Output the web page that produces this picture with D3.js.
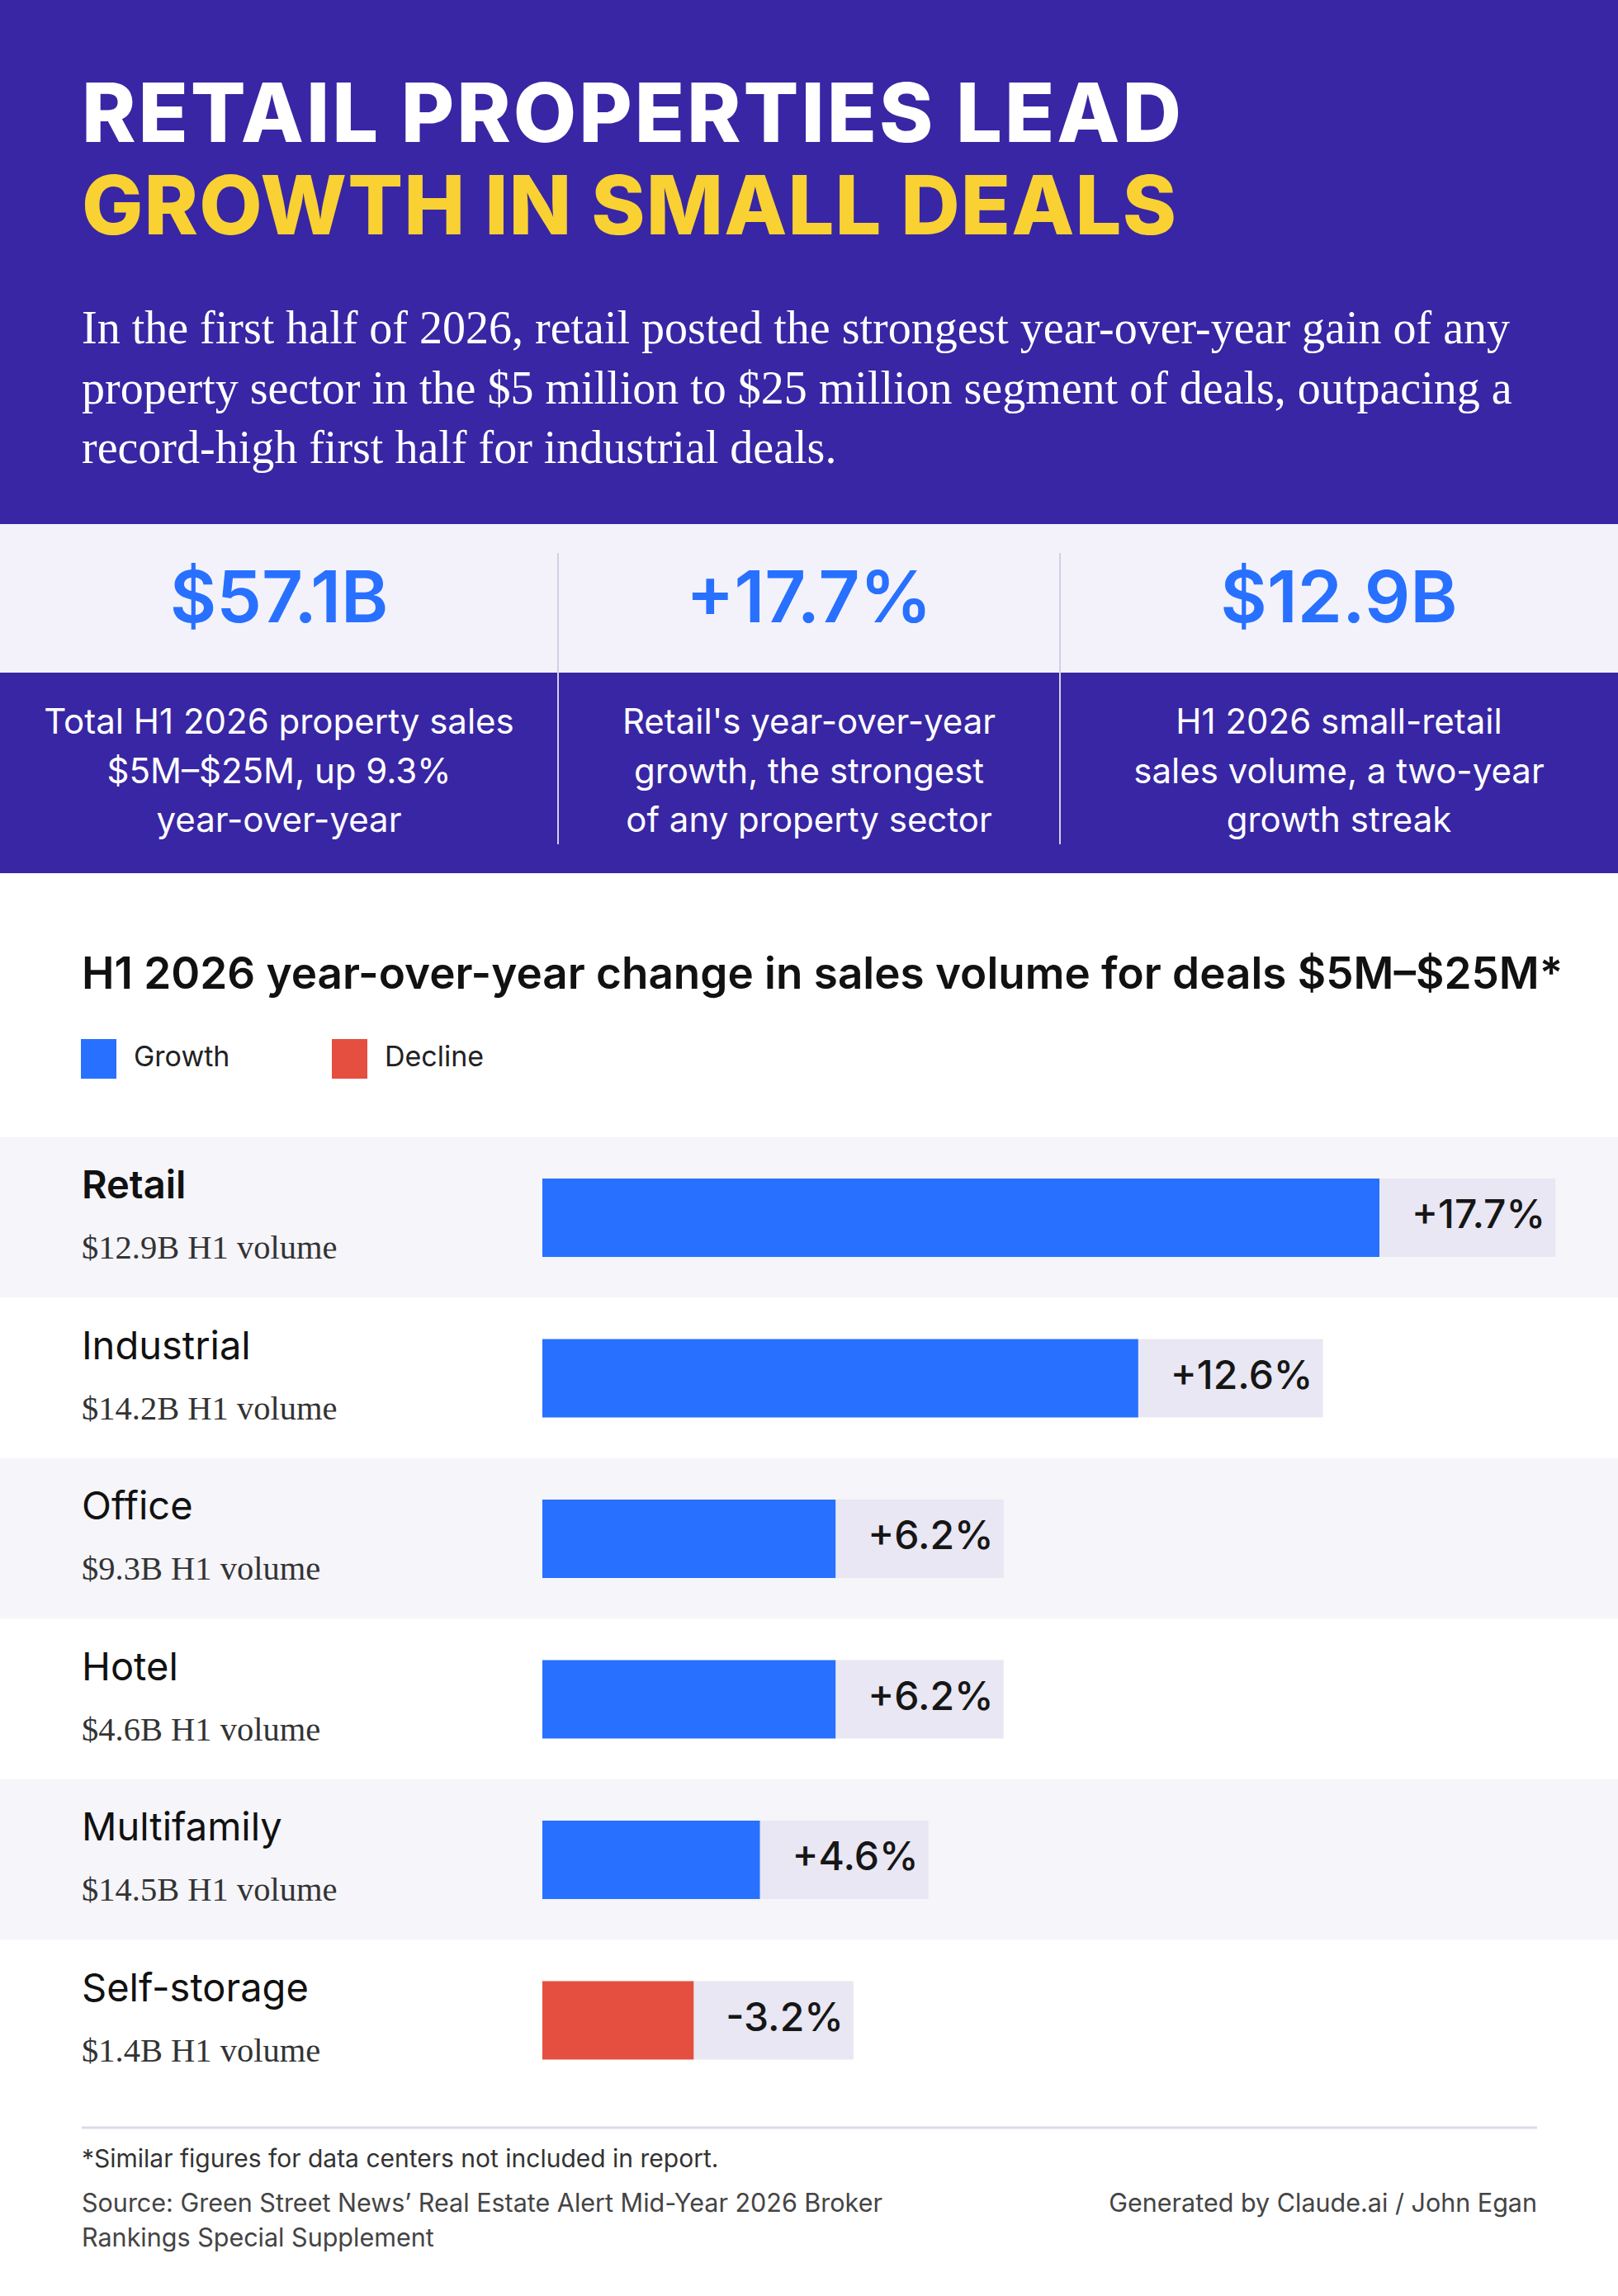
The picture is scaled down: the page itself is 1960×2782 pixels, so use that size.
<!DOCTYPE html>
<html>
<head>
<meta charset="utf-8">
<script src="https://cdn.jsdelivr.net/npm/d3@7"></script>
<style>
  body { margin: 0; background: #fff; }
  svg { display: block; }
  .sans { font-family: Inter, "Noto Sans", sans-serif; }
  .serif { font-family: "Liberation Serif", "DejaVu Serif", serif; }
</style>
</head>
<body>
<div class="chart"></div>
<script>
// chart values
var titleLines = ["RETAIL PROPERTIES LEAD", "GROWTH IN SMALL DEALS"];
var introLines = [
  "In the first half of 2026, retail posted the strongest year-over-year gain of any",
  "property sector in the $5 million to $25 million segment of deals, outpacing a",
  "record-high first half for industrial deals."
];
var statValues = ["$57.1B", "+17.7%", "$12.9B"];
var statNotes = [
  ["Total H1 2026 property sales", "$5M\u2013$25M, up 9.3%", "year-over-year"],
  ["Retail's year-over-year", "growth, the strongest", "of any property sector"],
  ["H1 2026 small-retail", "sales volume, a two-year", "growth streak"]
];
var chartTitle = "H1 2026 year-over-year change in sales volume for deals $5M\u2013$25M*";
var legendLabels = ["Growth", "Decline"];
var sectors = ["Retail", "Industrial", "Office", "Hotel", "Multifamily", "Self-storage"];
var changes = [17.7, 12.6, 6.2, 6.2, 4.6, -3.2];
var volumes = ["$12.9B", "$14.2B", "$9.3B", "$4.6B", "$14.5B", "$1.4B"];
var footnote = "*Similar figures for data centers not included in report.";
var sourceLines = ["Source: Green Street News\u2019 Real Estate Alert Mid-Year 2026 Broker", "Rankings Special Supplement"];
var credit = "Generated by Claude.ai / John Egan";

var svgWidth = 1960;
var svgHeight = 2782;
var left = 99;
var right = 1862;

var purple = "#3826A4";
var blue = "#2870FF";
var red = "#E44F3F";

var svg = d3.select(".chart")
  .append("svg")
  .attr("width", svgWidth)
  .attr("height", svgHeight);

// header block
svg.append("rect")
  .attr("width", svgWidth)
  .attr("height", 635)
  .attr("fill", purple);

var titleWidths = [1332, 1326];
svg.selectAll(".title-line")
  .data(titleLines)
  .enter()
  .append("text")
  .attr("class", "title-line sans")
  .attr("x", left)
  .attr("y", (d, i) => 172 + i * 112)
  .attr("font-size", 99)
  .attr("font-weight", 800)
  .attr("fill", (d, i) => i === 0 ? "#ffffff" : "#F9D132")
  .text(d => d)
  .each(function(d, i) {
    // stretch the spacing so each line fills its measured width
    var len = this.getComputedTextLength();
    var ls = (titleWidths[i] - len) / (d.length - 1);
    d3.select(this).attr("letter-spacing", ls);
  });

svg.selectAll(".intro")
  .data(introLines)
  .enter()
  .append("text")
  .attr("class", "intro serif")
  .attr("x", left)
  .attr("y", (d, i) => 416 + i * 72.5)
  .attr("font-size", 56)
  .attr("fill", "#ffffff")
  .text(d => d);

// stats strip
svg.append("rect")
  .attr("y", 635)
  .attr("width", svgWidth)
  .attr("height", 180)
  .attr("fill", "#F3F2FA");

svg.append("rect")
  .attr("y", 815)
  .attr("width", svgWidth)
  .attr("height", 243)
  .attr("fill", purple);

var colEdges = [0, 676, 1284, 1960];

svg.selectAll(".divider")
  .data(colEdges.slice(1, 3))
  .enter()
  .append("line")
  .attr("class", "divider")
  .attr("x1", d => d)
  .attr("x2", d => d)
  .attr("y1", 670)
  .attr("y2", 1023)
  .attr("stroke", "#D3D0E6")
  .attr("stroke-width", 2);

var statGroups = svg.selectAll(".stat")
  .data(statValues)
  .enter()
  .append("g")
  .attr("class", "stat")
  .attr("transform", (d, i) => `translate(${(colEdges[i] + colEdges[i + 1]) / 2}, 0)`);

statGroups.append("text")
  .attr("class", "sans")
  .attr("y", 754)
  .attr("text-anchor", "middle")
  .attr("font-size", 87)
  .attr("font-weight", 600)
  .attr("fill", blue)
  .text(d => d);

statGroups.each(function(d, i) {
  d3.select(this).selectAll(".note")
    .data(statNotes[i])
    .enter()
    .append("text")
    .attr("class", "note sans")
    .attr("y", (t, j) => 889 + j * 59.5)
    .attr("text-anchor", "middle")
    .attr("font-size", 42)
    .attr("fill", "#ffffff")
    .text(t => t);
});

// chart title and legend
svg.append("text")
  .attr("class", "sans")
  .attr("x", left)
  .attr("y", 1198)
  .attr("font-size", 53)
  .attr("font-weight", 600)
  .attr("fill", "#111111")
  .text(chartTitle);

var legendX = [98, 402];
var legend = svg.selectAll(".legend")
  .data(legendLabels)
  .enter()
  .append("g")
  .attr("class", "legend")
  .attr("transform", (d, i) => `translate(${legendX[i]}, 1259)`);

legend.append("rect")
  .attr("width", 43)
  .attr("height", 48)
  .attr("fill", (d, i) => i === 0 ? blue : red);

legend.append("text")
  .attr("class", "sans")
  .attr("x", 64)
  .attr("y", 33)
  .attr("font-size", 34)
  .attr("fill", "#222222")
  .text(d => d);

// bar rows
var rows = sectors.map((s, i) => ({ sector: s, change: changes[i], volume: volumes[i] }));

var yBand = d3.scaleBand()
  .domain(sectors)
  .range([1378, 2545]);

var barStart = 657;
var xLinearScale = d3.scaleLinear()
  .domain([0, d3.max(changes, d => Math.abs(d))])
  .range([0, 1014]);

var rowGroups = svg.selectAll(".row")
  .data(rows)
  .enter()
  .append("g")
  .attr("class", "row")
  .attr("transform", d => `translate(0, ${yBand(d.sector)})`);

rowGroups.append("rect")
  .attr("width", svgWidth)
  .attr("height", yBand.bandwidth())
  .attr("fill", (d, i) => i % 2 === 0 ? "#F5F5FA" : "#ffffff");

rowGroups.append("text")
  .attr("class", "sans")
  .attr("x", left)
  .attr("y", 74)
  .attr("font-size", 47)
  .attr("font-weight", (d, i) => i === 0 ? 600 : 400)
  .attr("fill", "#111111")
  .text(d => d.sector);

rowGroups.append("text")
  .attr("class", "serif")
  .attr("x", left)
  .attr("y", 147)
  .attr("font-size", 40.5)
  .attr("fill", "#333333")
  .text(d => d.volume + " H1 volume");

// label chip behind the value, drawn first so the bar sits on top
var chips = rowGroups.append("rect")
  .attr("x", d => barStart + xLinearScale(Math.abs(d.change)))
  .attr("y", 50)
  .attr("height", 95)
  .attr("fill", "#E9E7F3");

rowGroups.append("rect")
  .attr("x", barStart)
  .attr("y", 50)
  .attr("width", d => xLinearScale(Math.abs(d.change)))
  .attr("height", 95)
  .attr("fill", d => d.change >= 0 ? blue : red);

var valueLabels = rowGroups.append("text")
  .attr("class", "sans")
  .attr("x", d => barStart + xLinearScale(Math.abs(d.change)) + 39)
  .attr("y", 110)
  .attr("font-size", 48)
  .attr("font-weight", 500)
  .attr("fill", "#161616")
  .text(d => (d.change > 0 ? "+" : "") + d.change.toFixed(1) + "%");

valueLabels.each(function(d, i) {
  var w = this.getComputedTextLength();
  d3.select(chips.nodes()[i]).attr("width", w + 39 + 12);
});

// footer
svg.append("line")
  .attr("x1", left)
  .attr("x2", right)
  .attr("y1", 2578)
  .attr("y2", 2578)
  .attr("stroke", "#DCDAEA")
  .attr("stroke-width", 3);

svg.append("text")
  .attr("class", "sans")
  .attr("x", left)
  .attr("y", 2626)
  .attr("font-size", 30)
  .attr("fill", "#333333")
  .text(footnote);

svg.selectAll(".source")
  .data(sourceLines)
  .enter()
  .append("text")
  .attr("class", "source sans")
  .attr("x", left)
  .attr("y", (d, i) => 2680 + i * 42)
  .attr("font-size", 30.5)
  .attr("fill", "#444444")
  .text(d => d);

svg.append("text")
  .attr("class", "sans")
  .attr("x", right)
  .attr("y", 2680)
  .attr("text-anchor", "end")
  .attr("font-size", 30.5)
  .attr("fill", "#444444")
  .text(credit);
</script>
</body>
</html>
